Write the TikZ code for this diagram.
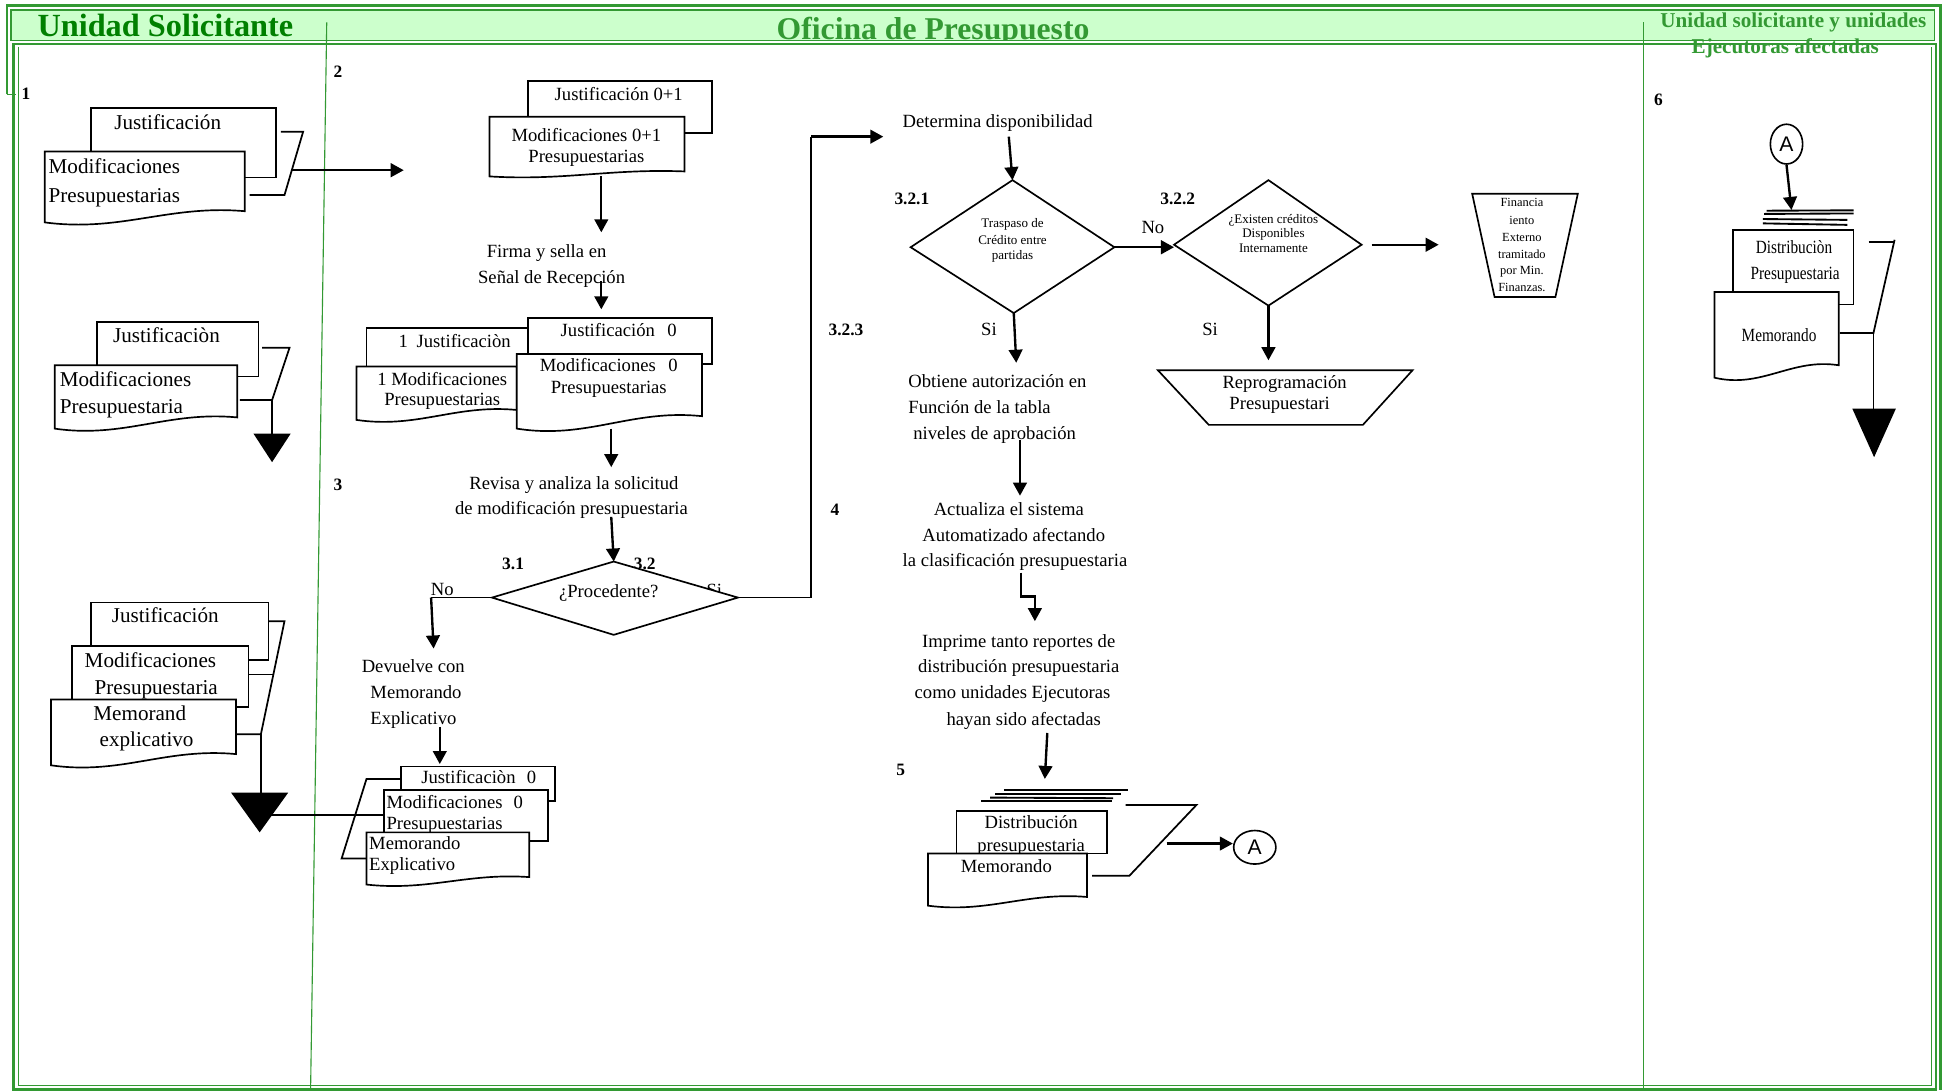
\documentclass[tikz,border=0pt]{standalone}
\usepackage{fontspec}
\usepackage{graphicx}
\setmainfont{Liberation Serif}
\newfontfamily\connfont{Liberation Sans}
\usetikzlibrary{arrows.meta,shapes.geometric}

\definecolor{laneline}{HTML}{339933}
\definecolor{bandfill}{HTML}{CCFFCC}
\definecolor{titledark}{HTML}{008000}

\tikzset{
  doc/.style={line width=1.35pt, fill=white},
  flow/.style={line width=1.9pt, -{Triangle[length=10.5pt,width=11pt]}},
  link/.style={line width=1.4pt},
  stackline/.style={line width=1.5pt},
  decision/.style={line width=1.35pt},
  lbl/.style={inner sep=0pt, anchor=base, font=\fontsize{14}{16}\selectfont\bfseries},
  tx/.style={inner sep=0pt, anchor=base, font=\fontsize{15}{18}\selectfont},
  txl/.style={inner sep=0pt, anchor=base west, font=\fontsize{15}{18}\selectfont},
  big/.style={inner sep=0pt, anchor=base, font=\fontsize{17}{20}\selectfont},
  bigl/.style={inner sep=0pt, anchor=base west, font=\fontsize{17}{20}\selectfont},
  small/.style={inner sep=0pt, anchor=base, font=\fontsize{10.5}{12}\selectfont},
  lane/.style={draw=laneline, line width=0.9pt},
  frame/.style={draw=laneline, line width=2pt},
  connector/.style={draw, ellipse, line width=1.3pt, inner sep=0pt, font=\connfont\fontsize{17}{20}\selectfont},
}

% sheet with a wavy lower edge: x1, y1, x2, y2, wave depth
\newcommand\wdoc[5]{%
  \draw[doc] (#1,{#4+#5}) -- (#1,#2) -- (#3,#2) -- (#3,#4)
    .. controls ({#1+0.62*(#3-#1)},{#4-0.6*#5}) and ({#1+0.38*(#3-#1)},{#4+1.9*#5}) .. (#1,{#4+#5}) -- cycle;}
% plain sheet: x1, y1, x2, y2
\newcommand\sheet[4]{\draw[doc] (#1,#2) rectangle (#3,#4);}
% filled storage triangle: x1, x2, top, apex
\newcommand\store[4]{\fill (#1,#3) -- (#2,#3) -- ({(#1+#2)/2},#4) -- cycle;}

\begin{document}
\begin{tikzpicture}[x=1pt, y=-1pt]
\useasboundingbox (0,0) rectangle (1568,878);

% ---------- header band ----------
\fill[bandfill] (9,8) rectangle (1557,33);
\node[inner sep=0pt, anchor=base west, text=titledark, font=\fontsize{26}{30}\selectfont\bfseries] (hUS) at (30,29) {Unidad Solicitante};
\begin{scope}
  \clip (9,8) rectangle (1557,32.5);
  \node[inner sep=0pt, anchor=base west, text=laneline, font=\fontsize{25.5}{30}\selectfont\bfseries] (hOP) at (625,31.5) {Oficina de Presupuesto};
\end{scope}
\node[inner sep=0pt, anchor=base, text=laneline, font=\fontsize{17}{20}\selectfont\bfseries] (hUE1) at (1443.5,22) {Unidad solicitante y unidades};
\node[inner sep=0pt, anchor=base, text=laneline, font=\fontsize{17}{20}\selectfont\bfseries] (hUE2) at (1437,43) {Ejecutoras afectadas};

% ---------- frame ----------
\draw[laneline, line width=1.2pt] (9,8) rectangle (1557,32.5);
\draw[frame] (5.5,76) -- (5.5,4.5) -- (1562,4.5) -- (1562,877.5);
\draw[laneline, line width=1.2pt] (5.5,76) -- (13,76);
\draw[frame] (11,35.5) rectangle (1558.5,877);
\draw[laneline, line width=0.8pt] (15,37.5) -- (15,874) -- (1555,874) -- (1555,37.5);
\draw[lane] (263,18) -- (250,877);
\draw[lane] (1323,18) -- (1323,877);

% ---------- step numbers ----------
\node[lbl] (n1) at (21,80) {1};
\node[lbl] (n2) at (272,62) {2};
\node[lbl] (n3) at (272,395) {3};
\node[lbl] (n4) at (672,415) {4};
\node[lbl] (n31) at (413,458) {3.1};
\node[lbl] (n32) at (519,458) {3.2};
\node[lbl] (n321) at (734,165) {3.2.1};
\node[lbl] (n322) at (948,165) {3.2.2};
\node[lbl] (n323) at (681,270) {3.2.3};
\node[lbl] (n5) at (725,624) {5};
\node[lbl] (n6) at (1335,85) {6};

% ================= Unidad Solicitante =================
% first request set
\sheet{73}{87}{222}{143}
\node[big] (us1j) at (135,104) {Justificación};
\wdoc{36}{122}{197}{170}{9}
\node[bigl] (us1m) at (39,140) {Modificaciones};
\node[bigl] (us1p) at (39,163) {Presupuestarias};
\coordinate (us1a) at (244,106);
\coordinate (us1b) at (229,157);
\draw[link] (226,106) -- (us1a) -- (us1b) -- (201,157);
\coordinate (us1out) at (235,137);
\coordinate (op2in) at (325,137);
\draw[flow] (us1out) -- (op2in);

% archived copy
\sheet{78}{259}{208}{303}
\node[big] (us2j) at (134,276) {Justificaciòn};
\wdoc{44}{294}{191}{336}{9}
\node[bigl] (us2m) at (48,311) {Modificaciones};
\node[bigl] (us2p) at (48,333) {Presupuestaria};
\coordinate (us2a) at (233,280);
\coordinate (us2b) at (219,322);
\draw[link] (211,280) -- (us2a) -- (us2b) -- (193,322);
\coordinate (us2st) at (219,350);
\draw[link] (us2b) -- (us2st);
\store{204}{234}{349}{372}

% returned set
\sheet{73}{485}{216}{531}
\node[big] (us3j) at (133,501) {Justificación};
\sheet{58}{520}{200}{569}
\node[bigl] (us3m) at (68,537) {Modificaciones};
\node[bigl] (us3p) at (76,559) {Presupuestaria};
\wdoc{41}{563}{190}{607}{9}
\node[bigl] (us3e1) at (75,580) {Memorand};
\node[bigl] (us3e2) at (80,601) {explicativo};
\coordinate (us3a) at (229,500);
\coordinate (us3b) at (210,591);
\draw[link] (216,500) -- (us3a) -- (us3b) -- (190,591);
\draw[link] (200,543) -- (220,543);
\coordinate (us3st) at (210,640);
\draw[link] (us3b) -- (us3st);
\store{186}{232}{638}{670}

% ================= Oficina de Presupuesto =================
% received set
\sheet{425}{65}{573}{107}
\node[tx] (opAj) at (498,81) {Justificación 0+1};
\wdoc{394}{94}{551}{138}{4}
\node[tx] (opAm) at (472,114) {Modificaciones 0+1};
\node[tx] (opAp) at (472,131) {Presupuestarias};
\coordinate (opAout) at (484,142);
\node[tx] (firma1) at (440,207) {Firma y sella en};
\coordinate (firmaIn) at (484,187);
\draw[flow] (opAout) -- (firmaIn);
\node[tx] (firma2) at (444,228) {Señal de Recepción};
\coordinate (firmaOut) at (484,226);
\coordinate (opBin) at (484,249);
\draw[flow] (firmaOut) -- (opBin);

% copies after signing
\sheet{295}{264}{425}{295}
\node[tx] (opB1j) at (366,280) {1\hspace{7pt}Justificaciòn};
\sheet{425}{256}{573}{293}
\node[tx] (opB0j) at (498,271) {Justificación\hspace{10pt}0};
\wdoc{287}{295}{416}{330}{8}
\node[tx] (opB1m) at (356,310) {1 Modificaciones};
\node[tx] (opB1p) at (356,326) {Presupuestarias};
\wdoc{416}{285}{565}{335}{10}
\node[tx] (opB0m) at (490,299) {Modificaciones\hspace{10pt}0};
\node[tx] (opB0p) at (490,317) {Presupuestarias};
\coordinate (opBout) at (492,345);
\coordinate (revIn) at (492,376);
\draw[flow] (opBout) -- (revIn);

\node[tx] (rev1) at (462,394) {Revisa y analiza la solicitud};
\node[tx] (rev2) at (460,414) {de modificación presupuestaria};
\coordinate (revOut) at (492,416);

% decision: procedente
\node[tx] (siP) at (575,480) {Si};
\coordinate (pL) at (396,481);
\coordinate (pT) at (494,452);
\coordinate (pR) at (594,481);
\coordinate (pB) at (494,511);
\draw[decision, fill=white] (pL) -- (pT) -- (pR) -- (pB) -- cycle;
\node[tx] (proc) at (490,481) {¿Procedente?};
\draw[flow] (revOut) -- (pT);
\node[tx] (noP) at (356,479) {No};
\coordinate (noJ) at (347,481);
\coordinate (devIn) at (349,522);
\draw[link] (pL) -- (noJ);
\draw[flow] (noJ) -- (devIn);

\node[txl] (dev1) at (291,541) {Devuelve con};
\node[txl] (dev2) at (298,562) {Memorando};
\node[txl] (dev3) at (298,583) {Explicativo};
\coordinate (devOut) at (354,585);
\coordinate (retIn) at (354,615);
\draw[flow] (devOut) -- (retIn);

% returned documents
\sheet{323}{617}{447}{645}
\node[txl] (retj) at (339,631) {Justificaciòn\hspace{9pt}0};
\sheet{309}{636}{441}{677}
\node[txl] (retm) at (311,651) {Modificaciones\hspace{9pt}0};
\begin{scope}
  \clip (309,636) rectangle (441,670);
  \node[txl] (retp) at (311,668) {Presupuestarias};
\end{scope}
\wdoc{295}{670}{426}{706}{6}
\node[txl] (rete1) at (297,684) {Memorando};
\node[txl] (rete2) at (297,701) {Explicativo};
\coordinate (reta) at (295,627);
\coordinate (retb) at (275,691);
\draw[link] (323,627) -- (reta) -- (retb) -- (295,691);
\coordinate (retmw) at (309,656);
\draw[link] (209,656) -- (retmw);

% availability path
\coordinate (siJ) at (653,481);
\coordinate (siTop) at (653,110);
\coordinate (detIn) at (711,110);
\draw[link] (pR) -- (siJ) -- (siTop);
\draw[flow] (siTop) -- (detIn);
\node[tx] (det) at (803,103) {Determina disponibilidad};
\coordinate (detOut) at (812,110);

% decision: traspaso
\coordinate (tL) at (733,199);
\coordinate (tT) at (815,145);
\coordinate (tR) at (897,199);
\coordinate (tB) at (816,252);
\draw[decision] (tL) -- (tT) -- (tR) -- (tB) -- cycle;
\draw[flow] (detOut) -- (tT);
\node[small] (tr1) at (815,183) {Traspaso de};
\node[small] (tr2) at (815,197) {Crédito entre};
\node[small] (tr3) at (815,209) {partidas};

% decision: creditos internos
\coordinate (eL) at (945,197);
\coordinate (eT) at (1021,145);
\coordinate (eR) at (1096,197);
\coordinate (eB) at (1021,246);
\draw[decision] (eL) -- (eT) -- (eR) -- (eB) -- cycle;
\node[small] (ex1) at (1025,180) {¿Existen créditos};
\node[small] (ex2) at (1025,191) {Disponibles};
\node[small] (ex3) at (1025,203) {Internamente};
\node[tx] (noT) at (928,188) {No};
\draw[flow] (tR) -- (tR -| eL);

\coordinate (eOut) at (1104,197);
\coordinate (finIn) at (1158,197);
\draw[flow] (eOut) -- (finIn);

% external financing
\draw[decision] (1185,156) -- (1270,156) -- (1252,239) -- (1203,239) -- cycle;
\begin{scope}[every node/.style={inner sep=0pt, anchor=base, font=\fontsize{10}{12}\selectfont}]
\node (f1) at (1225,166) {Financia};
\node (f2) at (1225,181) {iento};
\node (f3) at (1225,194) {Externo};
\node (f4) at (1225,208) {tramitado};
\node (f5) at (1225,221) {por Min.};
\node (f6) at (1225,235) {Finanzas.};
\end{scope}

% yes branches
\node[tx] (siT) at (796,270) {Si};
\node[tx] (siE) at (974,270) {Si};
\coordinate (obtIn) at (818,292);
\draw[flow] (tB) -- (obtIn);
\coordinate (repIn) at (1021,290);
\draw[flow] (eB) -- (repIn);

% reprogramming
\draw[decision] (932,298) -- (1137,298) -- (1097,342) -- (973,342) -- cycle;
\node[tx] (rep1) at (1034,313) {Reprogramación};
\node[tx] (rep2) at (1030,330) {Presupuestari};

% authorisation and update
\node[txl] (ob1) at (731,312) {Obtiene autorización en};
\node[txl] (ob2) at (731,333) {Función de la tabla};
\node[txl] (ob3) at (735,354) {niveles de aprobación};
\coordinate (obOut) at (821,354);
\coordinate (actIn) at (821,399);
\draw[flow] (obOut) -- (actIn);
\node[tx] (ac1) at (812,415) {Actualiza el sistema};
\node[tx] (ac2) at (816,436) {Automatizado afectando};
\node[tx] (ac3) at (817,456) {la clasificación presupuestaria};
\coordinate (acOut) at (822,461);
\coordinate (impIn) at (833,500);
\draw[flow] (acOut) -- (822,480) -- (833,480) -- (impIn);
\node[tx] (im1) at (820,521) {Imprime tanto reportes de};
\node[tx] (im2) at (820,541) {distribución presupuestaria};
\node[tx] (im3) at (815,562) {como unidades Ejecutoras};
\node[tx] (im4) at (824,584) {hayan sido afectadas};
\coordinate (imOut) at (843,590);
\coordinate (stackIn) at (841,627);
\draw[flow] (imOut) -- (stackIn);

% printed reports
\draw[stackline] (808,636) -- (908,636);
\draw[stackline] (801,639) -- (902,639);
\draw[stackline] (797,642) -- (896,642.5);
\draw[stackline] (790,645) -- (895,645);
\sheet{770}{653}{891}{687}
\node[tx] (pd1) at (830,667) {Distribución};
\begin{scope}
  \clip (770,653) rectangle (891,687);
  \node[tx] (pd2) at (830,685) {presupuestaria};
\end{scope}
\wdoc{747}{687}{875}{722}{7}
\node[tx] (pm) at (810,702) {Memorando};
\coordinate (pda) at (963,648);
\coordinate (pdb) at (909,705);
\draw[link] (906,648) -- (pda) -- (pdb) -- (879,705);
\coordinate (pdOut) at (939,679);
\node[connector, minimum width=34pt, minimum height=27pt] (conA) at (1010,682) {A};
\draw[flow] (pdOut) -- (pdOut -| conA.west);

% ================= Unidades ejecutoras =================
\node[connector, minimum width=26pt, minimum height=32pt] (conB) at (1438,116) {A};
\coordinate (stk2) at (1442,169);
\draw[flow] (conB.south) -- (stk2);
\draw[stackline] (1422,169.6) -- (1492,169.3);
\draw[stackline] (1420,172.2) -- (1492,171.8);
\draw[stackline] (1419,176.3) -- (1487,177);
\draw[stackline] (1419,179.8) -- (1487,181);
\sheet{1395}{185}{1492}{245}
\node[tx] (ue1) at (1444,204) {\scalebox{0.82}[1]{Distribuciòn}};
\node[tx] (ue2) at (1445,225) {\scalebox{0.82}[1]{Presupuestaria}};
\wdoc{1380}{235}{1480}{294}{10}
\node[tx] (ue3) at (1432,275) {\scalebox{0.82}[1]{Memorando}};
\coordinate (uea) at (1525,193);
\coordinate (ueb) at (1508,268);
\draw[link] (1504,195) -- (1525,195);
\draw[link] (uea) -- (ueb) -- (1481,268);
\coordinate (uest) at (1508,330);
\draw[link] (ueb) -- (uest);
\store{1491}{1526}{329}{368}

\end{tikzpicture}
\end{document}
